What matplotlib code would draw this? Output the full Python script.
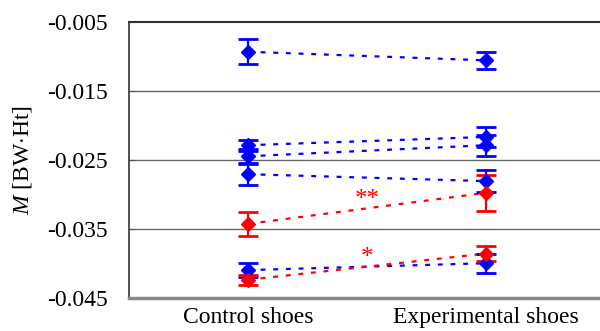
import matplotlib
matplotlib.use('Agg')
import matplotlib.pyplot as plt
import numpy as np

plt.rcParams['font.family'] = ['Liberation Serif', 'DejaVu Serif']
plt.rcParams['mathtext.fontset'] = 'custom'
plt.rcParams['mathtext.it'] = 'Liberation Serif:italic'
plt.rcParams['mathtext.rm'] = 'Liberation Serif'

# conditions on the x axis
conditions = ['Control shoes', 'Experimental shoes']

# blue subjects: (control, experimental) mean and error
blue_ctrl = [-0.00935, -0.0229, -0.0245, -0.0271, -0.0410]
blue_ctrl_err = [0.0018, 0.0008, 0.0010, 0.0015, 0.0010]
blue_exp = [-0.0106, -0.0217, -0.0229, -0.0281, -0.0400]
blue_exp_err = [0.0012, 0.0014, 0.0015, 0.0016, 0.0014]

# red subjects (significant change)
red_ctrl = [-0.0343, -0.0424]
red_ctrl_err = [0.0017, 0.0007]
red_exp = [-0.0298, -0.0386]
red_exp_err = [0.0026, 0.0011]
red_marks = ['**', '*']

yticks = [-0.005, -0.015, -0.025, -0.035, -0.045]

fig = plt.figure(figsize=(6, 3.31), dpi=100)
ax = fig.add_axes([0.215, 0.1006, 0.793, 0.8338])

xs = np.array([1, 2])
dash = (0, (2.2, 3.5))

def draw(ctrl, ctrl_err, exp, exp_err, col):
    for c, ce, e, ee in zip(ctrl, ctrl_err, exp, exp_err):
        ax.plot(xs, [c, e], color=col, lw=1.6, linestyle=dash, zorder=2)
        ax.errorbar(xs, [c, e], yerr=[ce, ee], fmt='D', color=col, ms=7,
                    elinewidth=1.6, capsize=7, capthick=2, zorder=3)

draw(blue_ctrl, blue_ctrl_err, blue_exp, blue_exp_err, '#0000ff')
draw(red_ctrl, red_ctrl_err, red_exp, red_exp_err, '#ff0000')

for c, e, m in zip(red_ctrl, red_exp, red_marks):
    ax.text(1.5, (c + e) / 2 + 0.0012, m, color='#ff0000', fontsize=18,
            ha='center', va='center')

ax.set_xlim(0.5, 2.5)
ax.set_ylim(-0.045, -0.005)
ax.set_yticks(yticks)
ax.set_yticklabels(['%.3f' % v for v in yticks])
ax.set_xticks(xs)
ax.set_xticklabels(conditions)
ax.tick_params(axis='both', labelsize=17)
ax.tick_params(axis='x', length=0, pad=7)
ax.tick_params(axis='y', direction='in', length=4, color='#555555', pad=15)

for y in yticks[1:-1]:
    ax.axhline(y, color='#666666', lw=1.0, zorder=1)

ax.spines['right'].set_visible(False)
ax.spines['top'].set_color('#333333')
ax.spines['top'].set_linewidth(1.5)
ax.spines['left'].set_color('#333333')
ax.spines['left'].set_linewidth(1.2)
ax.spines['bottom'].set_color('#888888')
ax.spines['bottom'].set_linewidth(2.5)

ax.set_ylabel(r'$M$ [BW$\cdot$Ht]', fontsize=17, labelpad=10)

plt.savefig('out.png', dpi=100)
